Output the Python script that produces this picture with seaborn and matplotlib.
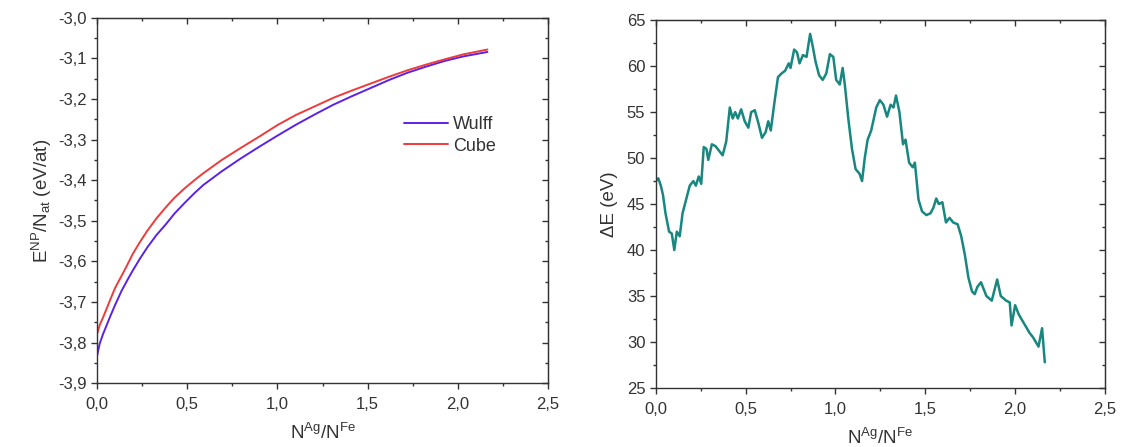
import numpy as np
import pandas as pd
import matplotlib
matplotlib.use("Agg")
import matplotlib.pyplot as plt
from matplotlib.ticker import MultipleLocator, FuncFormatter
import seaborn as sns

# ---- Left panel data ----
ratio_left = [0.000, 0.015, 0.033, 0.055, 0.074, 0.100, 0.136, 0.170, 0.198, 0.240,
              0.280, 0.330, 0.383, 0.430, 0.486, 0.540, 0.589, 0.692,
              0.795, 0.898, 1.001, 1.104, 1.207, 1.310, 1.413, 1.516, 1.619, 1.722,
              1.825, 1.928, 2.030, 2.164]
wulff = [-3.834, -3.803, -3.780, -3.756, -3.735, -3.708, -3.673, -3.645, -3.623, -3.592,
         -3.565, -3.535, -3.508, -3.482, -3.456, -3.432, -3.412, -3.378,
         -3.347, -3.318, -3.290, -3.263, -3.238, -3.214, -3.193, -3.173, -3.153, -3.135,
         -3.120, -3.106, -3.095, -3.084]
cube = [-3.780, -3.757, -3.739, -3.715, -3.694, -3.666, -3.636, -3.607, -3.582, -3.551,
        -3.524, -3.494, -3.466, -3.443, -3.420, -3.400, -3.383, -3.350,
        -3.321, -3.293, -3.264, -3.239, -3.218, -3.197, -3.179, -3.162, -3.145, -3.129,
        -3.115, -3.102, -3.090, -3.078]

# ---- Right panel data ----
ratio_right = [0.000, 0.014, 0.028, 0.040, 0.054, 0.074, 0.089, 0.103, 0.117, 0.133,
               0.149, 0.169, 0.189, 0.209, 0.223, 0.239, 0.253, 0.267, 0.282, 0.292,
               0.312, 0.332, 0.352, 0.372, 0.392, 0.412, 0.428, 0.442, 0.457, 0.475,
               0.495, 0.515, 0.531, 0.551, 0.571, 0.591, 0.611, 0.626, 0.640, 0.660,
               0.680, 0.700, 0.720, 0.740, 0.750, 0.770, 0.786, 0.800, 0.819, 0.839,
               0.859, 0.873, 0.889, 0.909, 0.929, 0.949, 0.969, 0.988, 1.004, 1.024,
               1.040, 1.052, 1.072, 1.092, 1.112, 1.134, 1.148, 1.163, 1.179, 1.199,
               1.227, 1.247, 1.267, 1.287, 1.307, 1.323, 1.337, 1.356, 1.376, 1.390,
               1.410, 1.430, 1.442, 1.462, 1.482, 1.506, 1.529, 1.545, 1.561, 1.575,
               1.595, 1.615, 1.635, 1.655, 1.680, 1.700, 1.720, 1.740, 1.760, 1.775,
               1.790, 1.810, 1.840, 1.870, 1.900, 1.920, 1.950, 1.970, 1.980, 2.000,
               2.020, 2.050, 2.080, 2.100, 2.130, 2.150, 2.165]
delta_e = [47.5, 47.8, 47.0, 46.0, 44.0, 42.0, 41.8, 40.0, 42.0, 41.5,
           44.0, 45.5, 47.0, 47.5, 47.0, 48.0, 47.2, 51.2, 51.0, 49.8,
           51.5, 51.3, 50.8, 50.3, 51.8, 55.5, 54.3, 55.0, 54.3, 55.3,
           54.0, 53.3, 55.0, 55.2, 53.8, 52.2, 52.8, 54.0, 53.0, 56.0,
           58.8, 59.2, 59.5, 60.3, 59.8, 61.8, 61.5, 60.3, 61.2, 61.0,
           63.5, 62.2, 60.5, 59.0, 58.5, 59.2, 61.3, 61.0, 58.5, 58.0,
           59.8, 58.0, 54.2, 51.0, 48.8, 48.3, 47.5, 50.0, 52.0, 53.0,
           55.5, 56.3, 55.8, 54.5, 55.8, 55.5, 56.8, 55.0, 51.5, 52.0,
           49.5, 49.0, 49.5, 45.5, 44.2, 43.8, 44.0, 44.6, 45.6, 45.0,
           45.2, 43.0, 43.5, 43.0, 42.8, 41.5, 39.5, 37.0, 35.5, 35.2,
           36.0, 36.5, 35.0, 34.5, 36.8, 35.0, 34.5, 34.3, 31.8, 34.0,
           33.0, 32.0, 31.0, 30.5, 29.5, 31.5, 27.8]

sns.set_style("ticks")
plt.rcParams['font.family'] = ['Liberation Sans', 'DejaVu Sans']
plt.rcParams['mathtext.fontset'] = 'custom'
plt.rcParams['mathtext.rm'] = 'Liberation Sans'
plt.rcParams['mathtext.it'] = 'Liberation Sans'

fig = plt.figure(figsize=(11.21, 4.47), dpi=100)
ax1 = fig.add_axes([0.0865, 0.143, 0.4024, 0.817])
ax2 = fig.add_axes([0.585, 0.132, 0.4007, 0.823])

df_l = pd.DataFrame({"x": ratio_left * 2, "y": wulff + cube,
                     "shape": ["Wulff"] * len(wulff) + ["Cube"] * len(cube)})
sns.lineplot(data=df_l, x="x", y="y", hue="shape", palette={"Wulff": "#5a22e6", "Cube": "#ee3b3b"},
             ax=ax1, linewidth=1.4, sort=False, estimator=None)

df_r = pd.DataFrame({"x": ratio_right, "y": delta_e})
sns.lineplot(data=df_r, x="x", y="y", ax=ax2, color="#17877f", linewidth=1.8, sort=False, estimator=None)

comma = FuncFormatter(lambda v, p: f"{v:.1f}".replace(".", ","))
comma_int = FuncFormatter(lambda v, p: f"{v:.0f}")

for ax in (ax1, ax2):
    ax.set_xlim(0, 2.5)
    ax.xaxis.set_major_locator(MultipleLocator(0.5))
    ax.xaxis.set_minor_locator(MultipleLocator(0.25))
    ax.xaxis.set_major_formatter(comma)
    ax.tick_params(axis='both', which='major', direction='out', length=4, width=1,
                   labelsize=12, color='#333333', labelcolor='#333333')
    ax.tick_params(axis='x', which='major', pad=6)
    ax.tick_params(axis='both', which='minor', direction='out', length=2.5, width=1, color='#333333')
    for s in ax.spines.values():
        s.set_linewidth(1.0)
        s.set_color('#333333')
    ax.set_xlabel("N$^{Ag}$/N$^{Fe}$", fontsize=13.5, color='#333333', labelpad=8)

ax1.set_ylim(-3.9, -3.0)
ax1.yaxis.set_major_locator(MultipleLocator(0.1))
ax1.yaxis.set_minor_locator(MultipleLocator(0.05))
ax1.yaxis.set_major_formatter(comma)
ax1.set_ylabel("E$^{NP}$/N$_{at}$ (eV/at)", fontsize=13.5, color='#333333', labelpad=3)

ax2.set_ylim(25, 65)
ax2.yaxis.set_major_locator(MultipleLocator(5))
ax2.yaxis.set_minor_locator(MultipleLocator(2.5))
ax2.yaxis.set_major_formatter(comma_int)
ax2.set_ylabel("ΔE (eV)", fontsize=13.5, color='#333333', labelpad=6)

# mirrored ticks on top/right pointing inward
for ax in (ax1, ax2):
    top = ax.secondary_xaxis('top')
    top.xaxis.set_major_locator(MultipleLocator(0.5))
    top.xaxis.set_minor_locator(MultipleLocator(0.25))
    top.tick_params(which='major', direction='in', length=4, width=1, labeltop=False, color='#333333')
    top.tick_params(which='minor', direction='in', length=2.5, width=1, color='#333333')
    right = ax.secondary_yaxis('right')
    right.yaxis.set_major_locator(ax.yaxis.get_major_locator())
    right.yaxis.set_minor_locator(ax.yaxis.get_minor_locator())
    right.tick_params(which='major', direction='in', length=4, width=1, labelright=False, color='#333333')
    right.tick_params(which='minor', direction='in', length=2.5, width=1, color='#333333')

leg = ax1.legend(loc='upper left', bbox_to_anchor=(0.645, 0.775), frameon=False,
                 fontsize=13, handlelength=2.4, handletextpad=0.3, labelspacing=0.25)
for t in leg.get_texts():
    t.set_color('#333333')

fig.savefig("out.png", dpi=100)
